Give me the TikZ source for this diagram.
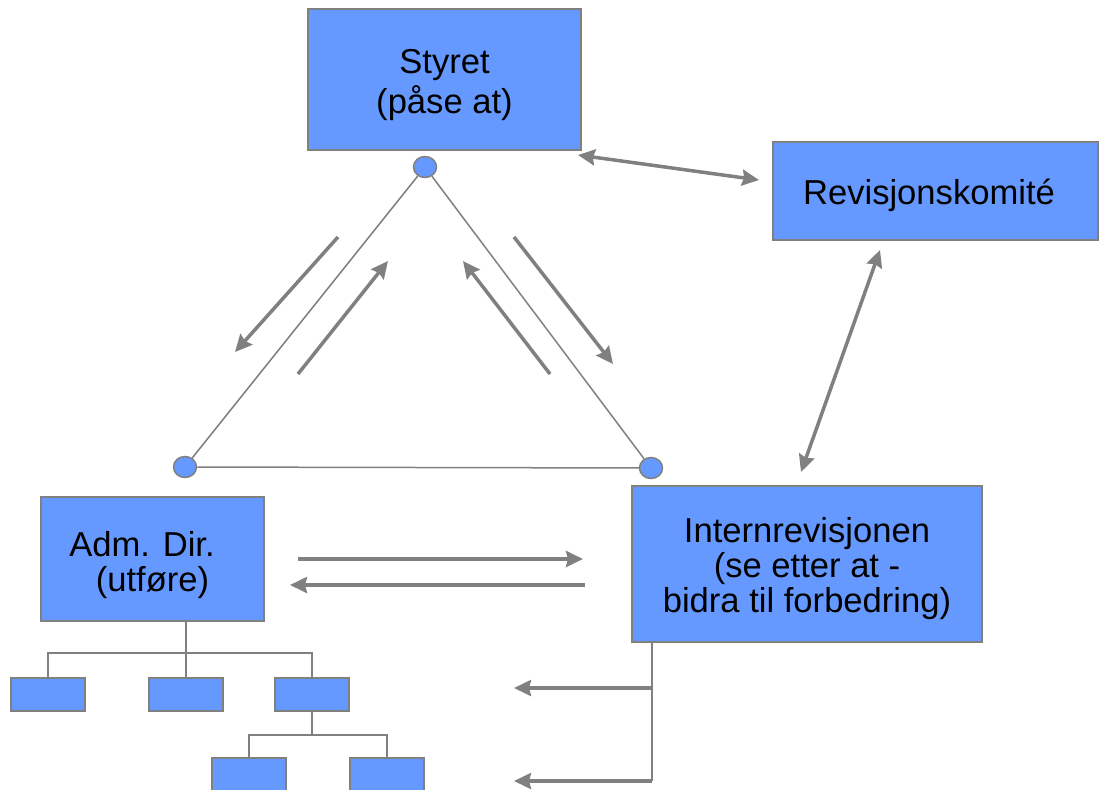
\documentclass[tikz,border=0pt]{standalone}
\usepackage{fontspec}
\setmainfont{Liberation Sans}
\usetikzlibrary{arrows.meta,shapes.geometric}
\definecolor{boxblue}{HTML}{6699FF}
\definecolor{linegray}{HTML}{808080}
\begin{document}
\begin{tikzpicture}[x=1pt,y=-1pt,
  box/.style={draw=linegray, fill=boxblue, line width=2pt, inner sep=0pt},
  txt/.style={font=\fontsize{34.6}{35}\selectfont, align=center, text=black, inner sep=0pt},
  smallbox/.style={draw=linegray, fill=boxblue, line width=2pt,
    minimum width=74pt, minimum height=33pt, inner sep=0pt},
  dot/.style={ellipse, draw=linegray, fill=boxblue, line width=1.5pt,
    minimum width=23pt, minimum height=21pt, inner sep=0pt},
  flow/.style={draw=linegray, line width=3.5pt, -{Stealth[length=17pt,width=16pt,inset=2pt]}},
  both/.style={draw=linegray, line width=3.5pt,
    {Stealth[length=17pt,width=16pt,inset=2pt]}-{Stealth[length=17pt,width=16pt,inset=2pt]}},
  tri/.style={draw=linegray, line width=1.5pt},
  tree/.style={draw=linegray, line width=2pt}
]
\useasboundingbox (0,0) rectangle (1099,789);
\clip (0,0) rectangle (1099,789);

% main boxes
\node[box, minimum width=273pt, minimum height=141pt] (sty) at (444.5,79.5) {};
\node[txt] (styt) at (444.5,85) {Styret\\[3pt](påse at)};
\node[box, minimum width=325pt, minimum height=98pt] (rev) at (935.5,191) {};
\node[txt] (revt) at (929,195) {Revisjonskomité};
\node[box, minimum width=350pt, minimum height=156pt] (int) at (807,564) {};
\node[txt] (intt) at (807,569) {Internrevisjonen\\(se etter at -\\bidra til forbedring)};
\node[box, minimum width=223pt, minimum height=124pt] (adm) at (152.5,559) {};
\node[txt] (admt) at (152.5,565) {Adm. Dir.\hspace*{21pt}\\(utføre)};

% triangle corners
\node[dot] (ct) at (425,167) {};
\node[dot] (cl) at (185,467) {};
\node[dot] (cr) at (651,468) {};
\draw[tri] (ct) -- (cl);
\draw[tri] (ct) -- (cr);
\draw[tri] (cl) -- (cr);

% arrows along the triangle sides
\coordinate (a1s) at (338,237); \coordinate (a1e) at (235,352);
\coordinate (a2s) at (298,374); \coordinate (a2e) at (388,261);
\coordinate (a3s) at (550,374); \coordinate (a3e) at (463,261);
\coordinate (a4s) at (514,237); \coordinate (a4e) at (613,364);
\draw[flow] (a1s) -- (a1e);
\draw[flow] (a2s) -- (a2e);
\draw[flow] (a3s) -- (a3e);
\draw[flow] (a4s) -- (a4e);

% double arrows
\coordinate (d1a) at (578,155); \coordinate (d1b) at (759,180);
\coordinate (d2a) at (880,250); \coordinate (d2b) at (801,472);
\draw[both] (d1a) -- (d1b);
\draw[both] (d2a) -- (d2b);

% horizontal arrows between Adm. Dir. and Internrevisjonen
\coordinate (h1s) at (298,559); \coordinate (h1e) at (583,559);
\coordinate (h2s) at (585,585); \coordinate (h2e) at (290,585);
\draw[flow] (h1s) -- (h1e);
\draw[flow] (h2s) -- (h2e);

% lines from Internrevisjonen downwards
\coordinate (vtop) at (652,642);
\coordinate (v1) at (652,688); \coordinate (v1e) at (514,688);
\coordinate (v2) at (652,781); \coordinate (v2e) at (514,781);
\draw[tree] (vtop) -- (v2);
\draw[flow] (v1) -- (v1e);
\draw[flow] (v2) -- (v2e);

% org chart
\node[smallbox] (s1) at (48,694.5) {};
\node[smallbox] (s2) at (186,694.5) {};
\node[smallbox] (s3) at (312,694.5) {};
\node[smallbox] (s4) at (249,774.5) {};
\node[smallbox] (s5) at (387,774.5) {};
\coordinate (j1) at (186,653);
\coordinate (j2) at (312,735);
\draw[tree] (adm.south -| s2.north) -- (s2.north);
\draw[tree] (s1.north) |- (j1) -| (s3.north);
\draw[tree] (s3.south) -- (j2);
\draw[tree] (s4.north) |- (j2) -| (s5.north);
\end{tikzpicture}
\end{document}
